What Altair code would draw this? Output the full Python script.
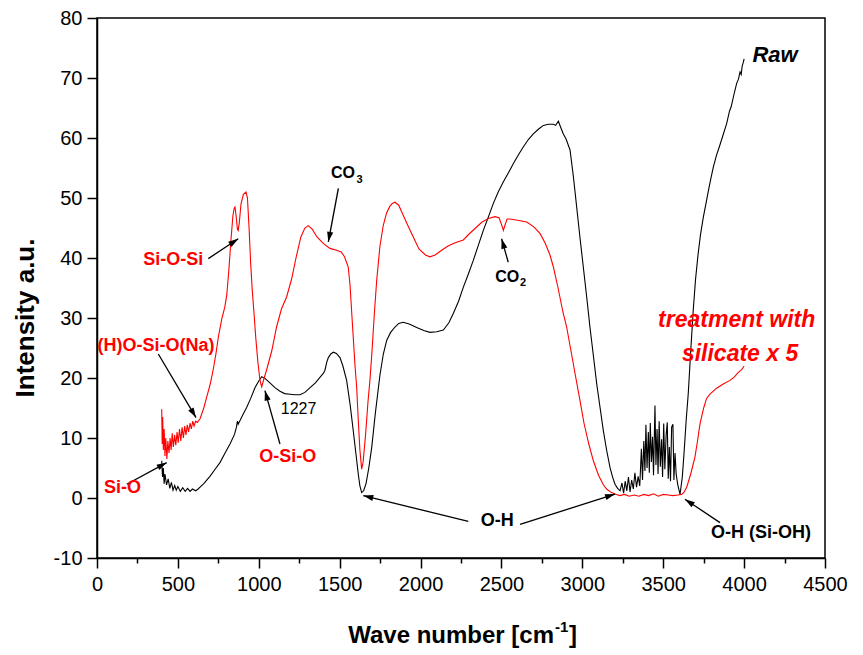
import math
import altair as alt
import pandas as pd

# ---------------- data ----------------
raw_x = [400, 405, 410, 415, 420, 430, 440, 450, 460, 470, 480, 490, 500, 515, 530, 545, 560, 575, 590, 610,
         625, 637, 660, 698, 730, 760, 790, 822, 850, 862, 868, 873, 900, 925, 950, 977, 1000, 1018, 1040, 1069,
         1100, 1131, 1160, 1193, 1225, 1255, 1285, 1317, 1350, 1378, 1400, 1409, 1420, 1430, 1445, 1461, 1480,
         1502, 1520, 1543, 1565, 1584, 1600, 1615, 1625, 1636, 1648, 1663, 1680, 1698, 1720, 1749, 1770, 1791,
         1815, 1842, 1865, 1893, 1930, 1976, 2020, 2058, 2100, 2141, 2175, 2203, 2235, 2264, 2295, 2326, 2357,
         2388, 2420, 2450, 2480, 2512, 2545, 2573, 2605, 2635, 2665, 2697, 2730, 2759, 2790, 2821, 2835, 2852,
         2866, 2882, 2900, 2924, 2945, 2965, 2985, 3006, 3027, 3047, 3068, 3089, 3110, 3130, 3150, 3171, 3188,
         3202, 3218, 3233, 3245, 3255, 3265, 3275, 3285, 3295, 3305, 3315, 3325, 3335, 3345, 3355, 3365, 3372,
         3380, 3387, 3393, 3400, 3408, 3414, 3420, 3427, 3434, 3440, 3449, 3455, 3462, 3468, 3475, 3482, 3490,
         3496, 3503, 3510, 3518, 3525, 3531, 3538, 3545, 3552, 3560, 3566, 3573, 3580, 3590, 3604, 3618, 3630,
         3642, 3655, 3670, 3686, 3700, 3715, 3730, 3748, 3765, 3780, 3795, 3810, 3830, 3850, 3870, 3892, 3910,
         3920, 3935, 3954, 3965, 3975, 3982, 3988, 3995, 4000]
raw_y = [6.2, 3.5, 5.0, 2.4, 4.0, 2.2, 3.2, 1.6, 2.6, 1.3, 2.1, 1.3, 1.9, 1.1, 1.7, 1.1, 1.6, 1.1, 1.5, 1.2,
         1.5, 1.8, 2.4, 3.6, 4.8, 5.9, 7.4, 9.0, 10.6, 11.8, 12.8, 12.3, 13.8, 15.1, 16.6, 18.4, 19.5, 20.2, 19.9, 19.2,
         18.4, 17.8, 17.4, 17.3, 17.2, 17.2, 17.6, 18.4, 19.2, 20.1, 20.8, 21.3, 22.6, 23.4, 24.0, 24.3, 24.1,
         23.4, 22.0, 19.6, 15.5, 11.2, 7.5, 4.0, 2.0, 0.9, 1.2, 2.4, 5.0, 8.4, 14.0, 20.5, 24.0, 26.3,
         27.6, 28.5, 29.1, 29.3, 29.0, 28.4, 27.9, 27.6, 27.7, 28.0, 29.2, 30.8, 32.8, 35.1, 37.3, 39.6, 42.1,
         44.6, 46.9, 49.1, 51.0, 52.7, 54.3, 55.7, 57.2, 58.5, 59.7, 60.7, 61.5, 62.1, 62.3, 62.3, 62.1, 62.8,
         61.8, 60.7, 59.8, 58.0, 53.5, 48.5, 43.5, 38.5, 33.5, 28.5, 23.8, 19.0, 15.0, 11.2, 8.0, 5.1, 3.4,
         2.3, 1.6, 1.2, 2.5, 0.8, 2.8, 1.2, 3.5, 1.0, 3.0, 1.5, 4.2, 1.8, 3.6, 2.0, 8.2, 3.0,
         9.5, 4.5, 12.2, 5.0, 11.0, 4.2, 12.5, 6.0, 10.2, 3.8, 15.4, 5.5, 11.5, 4.0, 12.8, 5.2, 9.8,
         3.5, 12.4, 4.8, 10.5, 12.6, 3.2, 8.5, 2.8, 11.8, 12.3, 3.0, 7.5, 4.0, 2.2, 0.6, 3.5, 8.0,
         13.0, 17.5, 24.5, 31.5, 36.5, 40.5, 43.8, 46.8, 49.2, 51.3, 53.3, 55.2, 57.2, 58.8, 60.5, 62.4, 64.5,
         65.2, 67.0, 69.1, 69.8, 71.0, 70.6, 72.0, 72.6, 73.2]

trt_x = [400, 403, 406, 410, 415, 420, 425, 432, 438, 445, 452, 458, 465, 472, 480, 487, 495, 502, 510, 518,
         526, 534, 542, 550, 558, 566, 575, 583, 592, 600, 610, 620, 637, 660, 678, 700, 719, 735, 750, 771,
         790, 802, 815, 828, 840, 848, 853, 860, 868, 873, 880, 890, 905, 921, 930, 940, 950, 960, 970, 982,
         995, 1008, 1018, 1028, 1050, 1080, 1110, 1140, 1172, 1203, 1230, 1260, 1285, 1306, 1330, 1360, 1400,
         1440, 1480, 1510, 1530, 1553, 1564, 1580, 1595, 1605, 1615, 1625, 1636, 1645, 1660, 1675, 1687, 1700,
         1715, 1729, 1749, 1770, 1790, 1810, 1825, 1842, 1865, 1890, 1920, 1955, 1990, 2030, 2058, 2090, 2130,
         2170, 2210, 2264, 2300, 2340, 2380, 2420, 2460, 2485, 2500, 2512, 2522, 2535, 2553, 2600, 2656, 2700,
         2738, 2770, 2800, 2821, 2850, 2880, 2903, 2930, 2960, 2986, 3010, 3040, 3068, 3100, 3130, 3150, 3180,
         3210, 3233, 3260, 3290, 3320, 3350, 3380, 3410, 3440, 3470, 3500, 3530, 3560, 3590, 3614, 3630, 3645,
         3670, 3696, 3712, 3727, 3750, 3768, 3789, 3830, 3871, 3913, 3940, 3960, 3975, 3985, 3995, 4000]
trt_y = [14.8, 9.0, 13.5, 8.0, 11.5, 7.0, 10.0, 6.5, 9.5, 7.5, 10.0, 8.0, 10.8, 8.5, 10.5, 8.8, 11.0, 9.2, 11.5, 9.5,
         11.8, 10.0, 12.0, 10.5, 12.2, 11.0, 12.5, 11.5, 12.8, 12.0, 12.8, 12.6, 13.2, 15.0, 16.8, 19.0, 21.5, 24.0, 26.8, 29.8,
         31.8, 33.8, 38.0, 43.0, 47.0, 48.3, 48.5, 47.0, 44.8, 44.6, 46.0, 49.0, 50.6, 51.0, 50.0, 45.0, 39.0, 34.5, 31.0, 26.5,
         22.5, 19.5, 18.5, 19.5, 21.5, 24.5, 28.5, 31.5, 33.5, 36.5, 40.0, 43.5, 45.0, 45.4, 44.8, 43.5, 42.4,
         41.6, 41.3, 41.0, 40.2, 38.5, 35.5, 28.5, 22.0, 18.5, 13.0, 8.0, 4.8, 6.0, 10.5, 16.0, 19.6, 24.5,
         31.0, 36.3, 42.0, 45.5, 47.5, 48.6, 49.1, 49.3, 48.8, 47.3, 45.5, 43.5, 41.5, 40.5, 40.2, 40.5, 41.3,
         42.0, 42.5, 43.0, 44.0, 45.0, 46.0, 46.6, 46.9, 46.7, 45.6, 44.6, 45.5, 46.5, 46.5, 46.3, 46.0, 45.2,
         44.1, 42.5, 40.5, 38.5, 35.0, 31.0, 28.5, 24.5, 20.0, 16.2, 12.5, 9.0, 6.2, 3.8, 2.2, 1.5, 0.9,
         0.6, 0.4, 0.6, 0.3, 0.5, 0.3, 0.6, 0.4, 0.7, 0.3, 0.6, 0.5, 0.4, 0.5, 0.6, 1.0, 1.8,
         4.0, 6.8, 9.5, 12.3, 15.0, 16.6, 17.3, 18.3, 19.0, 19.6, 20.2, 20.8, 21.2, 21.4, 21.8, 22.0]

# annotation labels
lab_center_text = ["Si-O-Si", "(H)O-Si-O(Na)", "Si-O", "O-Si-O", "O-H", "O-H (Si-OH)"]
lab_center_x = [472, 365, 158, 1179, 2474, 4104]
lab_center_y = [39.6, 25.4, 1.75, 6.8, -3.8, -5.8]
lab_center_color = ["red", "red", "red", "red", "black", "black"]

co_text = ["CO", "CO"]
co_x = [1595, 2610]
co_y = [54.2, 36.8]
sub_text = ["3", "2"]
sub_x = [1604, 2615]
sub_y = [53.0, 35.8]

reg_text = ["1227"]
reg_x = [1246]
reg_y = [14.8]

ital_text = ["Raw", "treatment with", "silicate x 5"]
ital_x = [4191, 3954, 3975]
ital_y = [73.8, 29.6, 24.0]
ital_color = ["black", "red", "red"]
ital_size = [22, 23, 23]

# arrows: start -> tip
arr_x1 = [1492, 2542, 688, 379, 184, 1131, 2295, 2615, 3851]
arr_y1 = [51.6, 39.3, 39.9, 24.0, 2.3, 9.0, -3.9, -4.4, -4.1]
arr_x2 = [1430, 2501, 873, 612, 431, 1038, 1646, 3202, 3634]
arr_y2 = [42.7, 43.2, 43.2, 13.4, 5.9, 17.9, 0.4, 0.65, -0.2]

X_DOMAIN = [0, 4500]
Y_DOMAIN = [-10, 80]
W, H = 728, 540
FONT = "Liberation Sans"

# ---------------- tables ----------------
spectra = pd.concat([
    pd.DataFrame({"x": raw_x, "y": raw_y, "series": "Raw"}),
    pd.DataFrame({"x": trt_x, "y": trt_y, "series": "treatment"}),
], ignore_index=True)

px_x = W / (X_DOMAIN[1] - X_DOMAIN[0])
px_y = H / (Y_DOMAIN[1] - Y_DOMAIN[0])
angles = []
for sx, sy, tx, ty in zip(arr_x1, arr_y1, arr_x2, arr_y2):
    dx = (tx - sx) * px_x
    dy = -(ty - sy) * px_y
    angles.append(math.degrees(math.atan2(dx, -dy)) % 360)
arrows = pd.DataFrame({"x1": arr_x1, "y1": arr_y1, "x2": arr_x2, "y2": arr_y2, "angle": angles})

xs = alt.Scale(domain=X_DOMAIN, nice=False, zero=False)
ys = alt.Scale(domain=Y_DOMAIN, nice=False, zero=False)

x_axis = alt.Axis(
    values=list(range(0, 4501, 250)),
    labelExpr="datum.value % 500 == 0 ? '' + datum.value : ''",
    tickSize={"condition": {"test": "datum.value % 500 == 0", "value": 10}, "value": 5},
    labelFlush=False, labelOverlap=False, labelFont=FONT, labelFontSize=20, labelColor="black",
    labelPadding=6, tickColor="black", tickWidth=1.5, domainColor="black", domainWidth=1.5,
    grid=False, title=None)
y_axis = alt.Axis(
    values=list(range(-10, 81, 5)),
    labelExpr="datum.value % 10 == 0 ? '' + datum.value : ''",
    tickSize={"condition": {"test": "datum.value % 10 == 0", "value": 10}, "value": 5},
    labelFlush=False, labelOverlap=False, labelFont=FONT, labelFontSize=20, labelColor="black",
    labelPadding=5, tickColor="black", tickWidth=1.5, domainColor="black", domainWidth=1.5,
    grid=False, title=None)

lines = alt.Chart(spectra).mark_line(strokeWidth=1.1).encode(
    x=alt.X("x:Q", scale=xs, axis=x_axis),
    y=alt.Y("y:Q", scale=ys, axis=y_axis),
    color=alt.Color("series:N", scale=alt.Scale(domain=["Raw", "treatment"], range=["black", "red"]), legend=None),
    detail="series:N",
)

rules = alt.Chart(arrows).mark_rule(color="black", strokeWidth=1.3).encode(
    x="x1:Q", y="y1:Q", x2="x2:Q", y2="y2:Q")
heads = alt.Chart(arrows).mark_point(
    shape="M0,0 L0.62,2 L-0.62,2 Z", filled=True, color="black", opacity=1, size=100, strokeWidth=0
).encode(x="x2:Q", y="y2:Q", angle=alt.Angle("angle:Q", scale=None))

t_center = alt.Chart(pd.DataFrame({"x": lab_center_x, "y": lab_center_y, "t": lab_center_text, "c": lab_center_color})
                     ).mark_text(font=FONT, fontSize=18, fontWeight="bold", align="center", baseline="middle").encode(
    x="x:Q", y="y:Q", text="t:N", color=alt.Color("c:N", scale=None))
t_co = alt.Chart(pd.DataFrame({"x": co_x, "y": co_y, "t": co_text})).mark_text(
    font=FONT, fontSize=16, fontWeight="bold", align="right", baseline="middle", color="black").encode(
    x="x:Q", y="y:Q", text="t:N")
t_sub = alt.Chart(pd.DataFrame({"x": sub_x, "y": sub_y, "t": sub_text})).mark_text(
    font=FONT, fontSize=11, fontWeight="bold", align="left", baseline="middle", color="black").encode(
    x="x:Q", y="y:Q", text="t:N")
t_reg = alt.Chart(pd.DataFrame({"x": reg_x, "y": reg_y, "t": reg_text})).mark_text(
    font=FONT, fontSize=16, align="center", baseline="middle", color="black").encode(
    x="x:Q", y="y:Q", text="t:N")
t_ital = alt.Chart(pd.DataFrame({"x": ital_x, "y": ital_y, "t": ital_text, "c": ital_color, "s": ital_size})
                   ).mark_text(font=FONT, fontWeight="bold", fontStyle="italic", align="center", baseline="middle").encode(
    x="x:Q", y="y:Q", text="t:N", color=alt.Color("c:N", scale=None), size=alt.Size("s:Q", scale=None))

one = pd.DataFrame({"k": [0]})
xt1 = alt.Chart(one).mark_text(font=FONT, fontSize=24, fontWeight="bold", align="right",
                               baseline="alphabetic", color="black", text="Wave number [cm").encode(
    x=alt.value(457), y=alt.value(625))
xt2 = alt.Chart(one).mark_text(font=FONT, fontSize=15, fontWeight="bold", align="left",
                               baseline="alphabetic", color="black", text="-1").encode(
    x=alt.value(458), y=alt.value(614))
xt3 = alt.Chart(one).mark_text(font=FONT, fontSize=24, fontWeight="bold", align="left",
                               baseline="alphabetic", color="black", text="]").encode(
    x=alt.value(472), y=alt.value(625))
yt = alt.Chart(one).mark_text(font=FONT, fontSize=26, fontWeight="bold", align="center",
                              baseline="middle", color="black", angle=270, text="Intensity a.u.").encode(
    x=alt.value(-71), y=alt.value(300))

chart = alt.layer(lines, rules, heads, t_center, t_co, t_sub, t_reg, t_ital, xt1, xt2, xt3, yt).properties(
    width=W, height=H,
    padding={"left": 97, "top": 18, "right": 38, "bottom": 97},
    autosize=alt.AutoSizeParams(type="none"),
    background="white",
).configure_view(stroke="black", strokeWidth=1.5)

chart.save("out.html", embed_options={"renderer": "svg", "actions": False})
